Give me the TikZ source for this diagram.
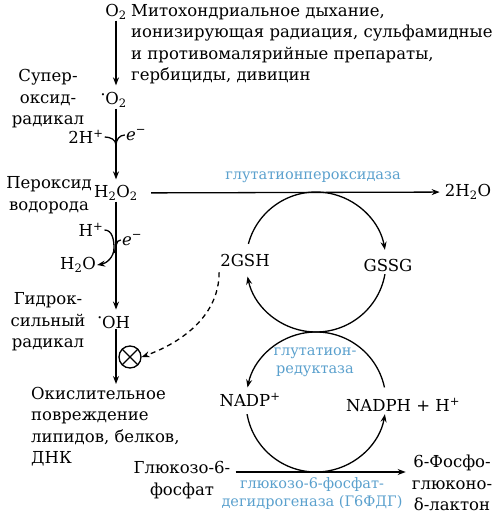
\documentclass[tikz,border=0pt]{standalone}
\usepackage{fontspec}
\setmainfont{DejaVu Serif}
\usetikzlibrary{arrows.meta}
\definecolor{enzblue}{RGB}{90,160,205}
\newcommand{\rad}{\raisebox{0.9ex}{\scalebox{0.45}{\textbullet}}}

\begin{document}
\begin{tikzpicture}[
    x=1pt, y=1pt,
    txt/.style={inner sep=1pt, font=\fontsize{16.5}{21.5}\selectfont, align=center},
    enz/.style={inner sep=1pt, text=enzblue, font=\fontsize{14.5}{18}\selectfont, align=center},
    arrow/.style={-{Stealth[length=8pt,width=6pt]}, line width=1.3pt},
    line/.style={line width=1.3pt}
]
\useasboundingbox (0,0) rectangle (502,514);

% Nodes
\node[txt] (o2) at (116,502) {O\textsubscript{2}};
\node[txt, anchor=north west, align=left] (source) at (130,511) {Митохондриальное дыхание,\\ионизирующая радиация, сульфамидные\\и противомалярийные препараты,\\гербициды, дивицин};
\node[txt] (superox) at (116,414) {\llap{\rad}O\textsubscript{2}};
\node[txt] (superlbl) at (48,415) {Супер-\\оксид-\\радикал};
\node[txt] (hplus2) at (86,377) {2H\textsuperscript{+}};
\node[txt] (elec1) at (136,379) {\textit{e}\textsuperscript{−}};
\coordinate (join1) at (116,369);
\node[txt] (h2o2) at (116,321) {H\textsubscript{2}O\textsubscript{2}};
\node[txt] (perlbl) at (49,319) {Пероксид\\водорода};
\node[txt] (water2) at (468,322) {2H\textsubscript{2}O};
\node[enz] (gpx) at (313,337) {глутатионпероксидаза};
\node[txt] (hplus1) at (91,284) {H\textsuperscript{+}};
\node[txt] (elec2) at (132,274) {\textit{e}\textsuperscript{−}};
\node[txt] (water1) at (78,249) {H\textsubscript{2}O};
\coordinate (bend2) at (114,266);
\coordinate (bend3) at (114,261);
\node[txt] (hydroxlbl) at (48,192) {Гидрок-\\сильный\\радикал};
\node[txt] (hydrox) at (116,192) {\llap{\rad}OH};
\node[draw, circle, line width=1.3pt, minimum size=22pt, inner sep=0pt] (block) at (130,157) {};
\node[txt, anchor=north west, align=left] (damage) at (30,128) {Окислительное\\повреждение\\липидов, белков,\\ДНК};

% Cycles
\coordinate (cyc1) at (316,252);
\coordinate (cyc2) at (316,112);
\node[txt] (gsh) at (245,254) {2GSH};
\node[txt] (gssg) at (388,249) {GSSG};
\node[txt] (nadp) at (250,114) {NADP\textsuperscript{+}};
\node[txt] (nadph) at (403,109) {NADPH + H\textsuperscript{+}};
\node[enz] (gr) at (315,152) {глутатион-\\редуктаза};
\node[txt] (g6p) at (182,34) {Глюкозо-6-\\фосфат};
\node[txt] (pgl) at (452,31) {6-Фосфо-\\глюконо-\\δ-лактон};
\node[enz] (g6pd) at (312,20) {глюкозо-6-фосфат-\\дегидрогеназа (Г6ФДГ)};
\coordinate (cyc2bot) at (316,42);

% Edges
\draw[arrow, shorten >=6pt] (o2) -- (superox);
\draw[arrow, shorten >=5pt] (superox) -- (h2o2);
\draw[line] (hplus2.east) to[out=0, in=90] (join1);
\draw[line] (elec1.west) to[out=180, in=90] (join1);
\draw[arrow, shorten <=12pt, shorten >=4pt] (h2o2) -- (water2);
\draw[arrow, shorten >=5pt] (h2o2) -- (hydrox);
\draw[arrow] (hplus1.east) to[out=0, in=90] (bend2) to[out=-90, in=10] (water1.east);
\draw[line] (elec2.west) to[out=180, in=60] (bend3);
\draw[arrow, shorten >=2pt] (hydrox) -- (hydrox |- damage.north);
\draw[line] (block.north west) -- (block.south east) (block.north east) -- (block.south west);
\draw[arrow, dash pattern=on 5pt off 4pt, shorten <=5pt] (gsh.south west) to[out=-90, in=20] (block.east);

\draw[arrow] (cyc1) ++(165:70) arc[start angle=165, end angle=10, radius=70];
\draw[arrow] (cyc1) ++(-10:70) arc[start angle=-10, end angle=-168, radius=70];
\draw[arrow] (cyc2) ++(12:70) arc[start angle=12, end angle=168, radius=70];
\draw[arrow] (cyc2) ++(190:70) arc[start angle=190, end angle=350, radius=70];
\draw[arrow, shorten <=4pt, shorten >=5pt] (g6p.east |- cyc2bot) -- (pgl.west |- cyc2bot);

\end{tikzpicture}
\end{document}
